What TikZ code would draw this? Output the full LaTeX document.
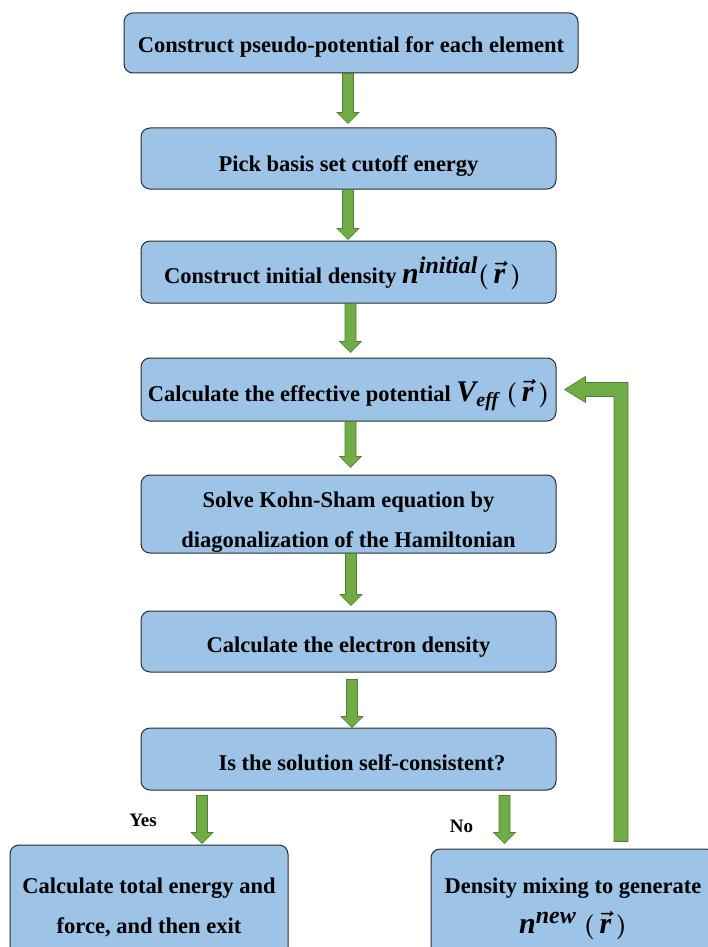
\documentclass[tikz,border=0pt]{standalone}
\usepackage{fontspec}
\setmainfont{Liberation Serif}
\usepackage{amsmath}
\usetikzlibrary{calc}
\definecolor{boxfill}{HTML}{9DC3E6}
\definecolor{boxline}{HTML}{2B2B2B}
\definecolor{arrfill}{HTML}{70AD47}
\definecolor{arrline}{HTML}{507E32}
% text of a box: #1 = distance of first baseline below box centre, #2 = lines
\newcommand{\boxtext}[2]{\smash{\raisebox{-#1pt}{\begin{tabular}[t]{@{}c@{}}#2\end{tabular}}}}
\newcommand{\mbig}[1]{{\fontsize{30}{30}\selectfont\boldmath$#1$}}
\newcommand{\tbi}[1]{\hbox{\bfseries\itshape #1}}
\newcommand{\tsup}[1]{\hbox{\fontsize{24}{24}\selectfont\bfseries\itshape #1}}
\newcommand{\tsub}[1]{\hbox{\fontsize{20}{20}\selectfont\bfseries\itshape #1}}
\newcommand{\vecr}{(\mkern3mu\vec{\tbi{r}}\mkern3mu)}
% #1 x offset from source south, #2 start gap, #3 end gap, #4 source, #5 target
\newcommand{\blockarrow}[5]{%
  \path[blockarr] let \p1=($(#4.south)+(#1,0)$), \p2=(#5.north) in
    (\x1-5.5pt,\y1-#2pt) -- (\x1+5.5pt,\y1-#2pt) -- (\x1+5.5pt,\y2+#3pt+11pt)
    -- (\x1+11pt,\y2+#3pt+11pt) -- (\x1,\y2+#3pt) -- (\x1-11pt,\y2+#3pt+11pt)
    -- (\x1-5.5pt,\y2+#3pt+11pt) -- cycle;}
\begin{document}
\begin{tikzpicture}[x=1pt,y=-1pt,
  flowbox/.style={draw=boxline, line width=1pt, fill=boxfill, rounded corners=9pt,
    inner sep=0pt, font=\fontsize{22.5}{40}\selectfont\bfseries\boldmath},
  blockarr/.style={fill=arrfill, draw=arrline, line width=0.6pt, line join=miter},
  lbl/.style={font=\fontsize{19}{22}\selectfont\bfseries, inner sep=0pt}]
\useasboundingbox (0,0) rectangle (708,947);
\clip (0,0) rectangle (708,947);
\fill[white] (0,0) rectangle (708,947);

\node[flowbox, minimum width=454pt, minimum height=60pt] (b1) at (351,43)
  {\boxtext{10}{Construct pseudo-potential for each element}};
\node[flowbox, minimum width=415pt, minimum height=61pt] (b2) at (348.5,158.5)
  {\boxtext{13}{Pick basis set cutoff energy}};
\node[flowbox, minimum width=415pt, minimum height=62pt] (b3) at (348.5,272)
  {\boxtext{11}{Construct initial density \mbig{\tbi{n}^{\tsup{initial}}\vecr}\hspace*{12pt}}};
\node[flowbox, minimum width=415pt, minimum height=63pt] (b4) at (348.5,389.5)
  {\boxtext{11.5}{Calculate the effective potential \mbig{\tbi{V}_{\tsub{eff}}\ \vecr}}};
\node[flowbox, minimum width=415pt, minimum height=78pt] (b5) at (348.5,514)
  {\boxtext{-7}{Solve Kohn-Sham equation by\\diagonalization of the Hamiltonian}};
\node[flowbox, minimum width=415pt, minimum height=61pt] (b6) at (348.5,641.5)
  {\boxtext{10.5}{Calculate the electron density}};
\node[flowbox, minimum width=415pt, minimum height=62pt] (b7) at (348.5,759)
  {\boxtext{11}{\hspace*{27pt}Is the solution self-consistent?}};
\node[flowbox, minimum width=278pt, minimum height=122pt] (b8) at (149,906)
  {\boxtext{-13}{Calculate total energy and\\force, and then exit}};
\node[flowbox, minimum width=284pt, minimum height=116pt] (b9) at (573,907)
  {\boxtext{-14}{Density mixing to generate\\\mbig{\tbi{n}^{\tsup{new}}\ \vecr}}};

\blockarrow{-3}{0}{4}{b1}{b2}
\blockarrow{-0.5}{0}{1}{b2}{b3}
\blockarrow{2}{0}{5}{b3}{b4}
\blockarrow{2}{0}{7}{b4}{b5}
\blockarrow{2.5}{0}{5}{b5}{b6}
\blockarrow{3.5}{7}{0}{b6}{b7}
\blockarrow{-146.5}{5}{1}{b7}{b8}
\blockarrow{156}{5}{5}{b7}{b9}

% feedback arrow from b9 to b4
\path[blockarr] let \p1=($(b9.north)+(48,0)$), \p2=(b4.east) in
  (\x1-7pt,\y1+7pt) -- (\x1+7pt,\y1+7pt) -- (\x1+7pt,\y2+7pt)
  -- (\x2+29pt,\y2+7pt) -- (\x2+29pt,\y2+13pt) -- (\x2+8pt,\y2)
  -- (\x2+29pt,\y2-13pt) -- (\x2+29pt,\y2-7pt) -- (\x1-7pt,\y2-7pt) -- cycle;

\node[lbl] (yes) at (143,820) {Yes};
\node[lbl] (no) at (461.5,826) {No};
\end{tikzpicture}
\end{document}
